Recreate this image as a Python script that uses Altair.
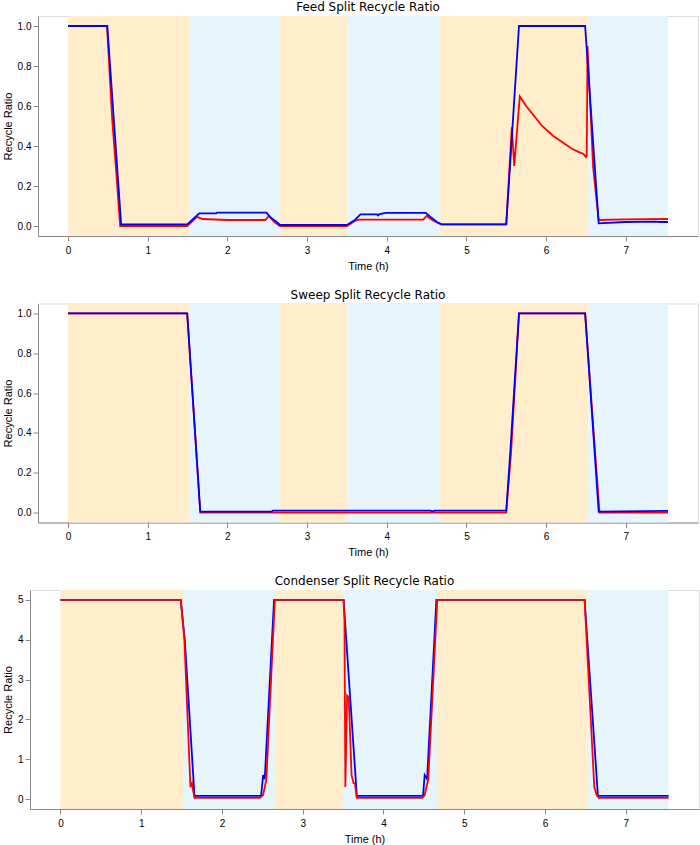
import altair as alt
import pandas as pd

# ---------------- data ----------------
phase_edges = [0.0, 1.53, 2.655, 3.51, 4.665, 6.53, 7.53]
phase_kind = ["orange", "blue", "orange", "blue", "orange", "blue"]

# Feed split
feed_red_t = [0.0, 0.49, 0.555, 0.605, 0.655, 1.496, 1.62, 1.69, 2.0, 2.476, 2.52, 2.59, 2.66,
              3.5, 3.6, 3.65, 4.46, 4.5, 4.57, 4.68, 5.5, 5.57, 5.6, 5.67, 5.75, 5.95, 6.09,
              6.2, 6.33, 6.42, 6.47, 6.5, 6.51, 6.52, 6.59, 6.66, 7.0, 7.53]
feed_red_v = [1.0, 1.0, 0.53, 0.27, 0.0, 0.0, 0.046, 0.035, 0.03, 0.03, 0.05, 0.02, 0.0,
              0.0, 0.025, 0.032, 0.032, 0.05, 0.03, 0.008, 0.008, 0.494, 0.3, 0.648, 0.6, 0.5, 0.45,
              0.42, 0.385, 0.368, 0.36, 0.345, 0.35, 0.9, 0.295, 0.03, 0.033, 0.035]
feed_blue_t = [0.0, 0.493, 0.667, 1.496, 1.647, 1.86, 1.87, 2.49, 2.55, 2.62, 2.66, 3.5, 3.6,
               3.67, 3.88, 3.89, 3.91, 3.99, 4.49, 4.55, 4.63, 4.69, 5.5, 5.66, 6.49, 6.66,
               6.99, 7.38, 7.42, 7.53]
feed_blue_v = [1.0, 1.0, 0.008, 0.008, 0.063, 0.063, 0.067, 0.067, 0.04, 0.02, 0.005, 0.005, 0.03,
               0.058, 0.058, 0.053, 0.06, 0.066, 0.066, 0.045, 0.02, 0.008, 0.008, 1.0, 1.0, 0.013,
               0.02, 0.022, 0.02, 0.02]

# Sweep split
sweep_red_t = [0.0, 1.496, 1.66, 5.5, 5.56, 5.66, 6.49, 6.67, 7.53]
sweep_red_v = [1.0, 1.0, 0.0, 0.0, 0.3, 1.0, 1.0, 0.0, 0.0]
sweep_blue_t = [0.0, 1.496, 1.66, 2.56, 2.57, 4.55, 4.57, 4.6, 5.5, 5.55, 5.66, 6.49, 6.66, 7.53]
sweep_blue_v = [1.0, 1.0, 0.005, 0.005, 0.01, 0.01, 0.005, 0.01, 0.01, 0.3, 1.0, 1.0, 0.005, 0.008]

# Condenser split
cond_red_t = [0.0, 1.49, 1.535, 1.61, 1.63, 1.64, 1.66, 2.47, 2.51, 2.55, 2.655,
              3.506, 3.517, 3.528, 3.55, 3.57, 3.605, 3.63, 3.645, 3.67, 4.48, 4.51, 4.555, 4.666,
              6.49, 6.61, 6.64, 6.665, 7.53]
cond_red_v = [5.0, 5.0, 4.0, 0.3, 0.4, 0.25, 0.03, 0.03, 0.1, 0.5, 5.0,
              5.0, 4.5, 0.3, 2.6, 2.55, 0.6, 0.4, 0.4, 0.03, 0.03, 0.1, 0.5, 5.0,
              5.0, 0.3, 0.1, 0.03, 0.03]
cond_blue_t = [0.0, 1.49, 1.54, 1.66, 2.485, 2.51, 2.53, 2.645, 3.506, 3.67, 4.49, 4.51, 4.54,
               4.655, 6.49, 6.655, 7.53]
cond_blue_v = [5.0, 5.0, 4.0, 0.08, 0.08, 0.6, 0.5, 5.0, 5.0, 0.08, 0.08, 0.6, 0.5,
               5.0, 5.0, 0.08, 0.08]

x_ticks = [0, 1, 2, 3, 4, 5, 6, 7]

# ---------------- helpers ----------------
FONT = "DejaVu Sans"
phase_colors = {"orange": "#FFEDCC", "blue": "#E6F4FB"}

phases = pd.DataFrame({
    "start": phase_edges[:-1],
    "end": phase_edges[1:],
    "kind": phase_kind,
})


def panel(title, red_t, red_v, blue_t, blue_v, ydom, yticks, yfmt, width, height, red_on_top):
    xscale = alt.Scale(domain=[-0.3765, 7.9065], nice=False, zero=False)
    yscale = alt.Scale(domain=ydom, nice=False, zero=False)
    xaxis = alt.Axis(values=x_ticks, format="d", title="Time (h)", grid=False,
                     titleFontWeight="normal", labelPadding=4, titlePadding=5)
    yaxis = alt.Axis(values=yticks, format=yfmt, title="Recycle Ratio", grid=False,
                     titleFontWeight="normal", labelPadding=2, titlePadding=4)

    shade = alt.Chart(phases).mark_rect(opacity=1).encode(
        x=alt.X("start:Q", scale=xscale, axis=xaxis),
        x2="end:Q",
        color=alt.Color("kind:N", scale=alt.Scale(domain=list(phase_colors.keys()),
                                                  range=list(phase_colors.values())), legend=None),
    )
    red = alt.Chart(pd.DataFrame({"t": red_t, "v": red_v})).mark_line(
        color="#FF0000", strokeWidth=1.8, clip=True
    ).encode(
        x=alt.X("t:Q", scale=xscale, axis=xaxis),
        y=alt.Y("v:Q", scale=yscale, axis=yaxis),
        order="t:Q",
    )
    blue = alt.Chart(pd.DataFrame({"t": blue_t, "v": blue_v})).mark_line(
        color="#0000FF", strokeWidth=1.8, clip=True
    ).encode(
        x=alt.X("t:Q", scale=xscale, axis=xaxis),
        y=alt.Y("v:Q", scale=yscale, axis=yaxis),
        order="t:Q",
    )
    layers = [shade, blue, red] if red_on_top else [shade, red, blue]
    return alt.layer(*layers).properties(
        width=width, height=height,
        title=alt.TitleParams(title, fontSize=12, font=FONT, fontWeight="normal",
                              color="#000000", offset=2),
    )


def spacer():
    return alt.Chart(pd.DataFrame({"v": pd.Series([], dtype=float)})).mark_point().encode(
        x=alt.X("v:Q", axis=None), y=alt.Y("v:Q", axis=None)
    ).properties(width=1, height=1, view=alt.ViewBackground(stroke="transparent"))


top = panel("Feed Split Recycle Ratio", feed_red_t, feed_red_v, feed_blue_t, feed_blue_v,
            [-0.05, 1.05], [0.0, 0.2, 0.4, 0.6, 0.8, 1.0], ".1f", 660, 220, False)
mid = panel("Sweep Split Recycle Ratio", sweep_red_t, sweep_red_v, sweep_blue_t, sweep_blue_v,
            [-0.05, 1.05], [0.0, 0.2, 0.4, 0.6, 0.8, 1.0], ".1f", 660, 219, False)
bot = panel("Condenser Split Recycle Ratio", cond_red_t, cond_red_v, cond_blue_t, cond_blue_v,
            [-0.25, 5.25], [0, 1, 2, 3, 4, 5], "d", 669, 219, True)

chart = alt.vconcat(
    alt.hconcat(spacer(), top, spacing=0),
    alt.hconcat(spacer(), mid, spacing=0),
    alt.hconcat(spacer(), bot, spacing=0),
    spacing=15.5,
    padding={"left": -2, "top": 0, "right": 0, "bottom": 0},
).configure_view(
    stroke="#333333", strokeWidth=1,
).configure_axis(
    domain=False,
    tickColor="#333333", tickSize=3.5, tickWidth=1,
    labelFont=FONT, labelFontSize=10, labelColor="#000000",
    titleFont=FONT, titleFontSize=10, titleFontWeight="normal", titleColor="#000000",
).configure(background="white")

chart.save("out.html", embed_options={"renderer": "svg", "actions": False})
